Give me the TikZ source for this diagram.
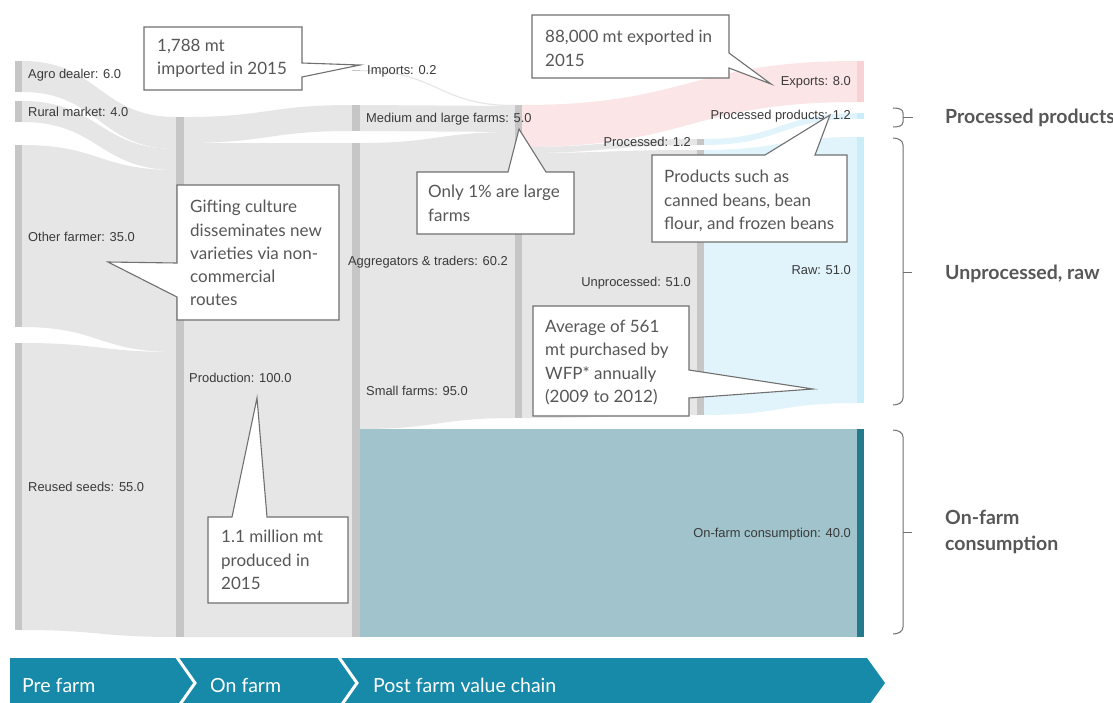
\documentclass[tikz,border=0pt]{standalone}
\usepackage{fontspec}
\setmainfont{Lato}
\newfontfamily\labfont{Liberation Sans}
\definecolor{flowgray}{HTML}{E6E6E6}
\definecolor{bargray}{HTML}{C6C6C6}
\definecolor{pinkflow}{HTML}{FCE5E6}
\definecolor{pinkbar}{HTML}{F7D1D4}
\definecolor{blueflow}{HTML}{E1F4FB}
\definecolor{bluebar}{HTML}{C9EEFA}
\definecolor{tealflow}{HTML}{A0C3CC}
\definecolor{tealbar}{HTML}{237A8C}
\definecolor{bannerc}{HTML}{1789A9}
\definecolor{callline}{HTML}{707070}
\definecolor{calltext}{HTML}{575757}
\definecolor{labtext}{HTML}{3A3A3A}
\newcommand{\sband}[7]{\fill[#7] (#1,#2) .. controls ({(#1+#4)/2},#2) and ({(#1+#4)/2},#5) .. (#4,#5) -- (#4,#6) .. controls ({(#1+#4)/2},#6) and ({(#1+#4)/2},#3) .. (#1,#3) -- cycle;}
\tikzset{
  lab/.style={font=\labfont\fontsize{12.9}{14}\selectfont, text=labtext, inner sep=0pt},
  labl/.style={lab, anchor=west},
  labr/.style={lab, anchor=east},
  callbox/.style={fill=white, draw=callline, line width=1.1pt, line join=miter},
  calltxt/.style={font=\fontsize{17}{23.3}\selectfont, text=calltext, inner sep=0pt, anchor=north west, align=left},
  heading/.style={font=\bfseries\fontsize{19.5}{26}\selectfont, text=calltext, inner sep=0pt, anchor=west, align=left},
  bracket/.style={draw=callline, line width=1pt},
  bannertxt/.style={font=\fontsize{19.5}{22}\selectfont, text=white, inner sep=0pt, anchor=west},
}
\begin{document}
\begin{tikzpicture}[x=1pt,y=-1pt]
\useasboundingbox (0,0) rectangle (1113,702);
\fill[white] (0,0) rectangle (1113,702);
% ---- flows col1 -> col2
\sband{22}{61}{92}{176}{117}{149}{flowgray}
\sband{22}{101}{122}{176}{149}{170}{flowgray}
\sband{22}{145}{327}{176}{170}{352}{flowgray}
\sband{22}{343}{630}{176}{352}{637}{flowgray}
% ---- col2 -> col3
\sband{184}{117}{143}{352}{105}{131}{flowgray}
\sband{184}{143}{637}{352}{143}{637}{flowgray}
% ---- col3 -> col4
\sband{360}{70}{71.2}{515}{105}{106.2}{flowgray}
\sband{360}{105}{131}{515}{106}{132}{flowgray}
\sband{360}{143}{429}{515}{132}{418}{flowgray}
\fill[tealflow] (360,429) rectangle (857,637);
% ---- col4 -> col5 / col6
\sband{522}{105}{147}{857}{61}{102}{pinkflow}
\sband{522}{147}{153}{697}{139}{145}{flowgray}
\sband{522}{153}{418}{697}{150}{415}{flowgray}
% ---- col5 -> col6
\sband{704}{139}{145}{857}{113}{119}{blueflow}
\sband{704}{150}{415}{857}{137}{403}{blueflow}
% ---- bars
\fill[bargray] (15,61) rectangle (22,92);
\fill[bargray] (15,101) rectangle (22,122);
\fill[bargray] (15,145) rectangle (22,327);
\fill[bargray] (15,343) rectangle (22,630);
\fill[bargray] (176,117) rectangle (184,637);
\fill[bargray] (352,70) rectangle (360,71.2);
\fill[bargray] (352,105) rectangle (360,131);
\fill[bargray] (352,143) rectangle (360,637);
\fill[bargray] (515,105) rectangle (522,418);
\fill[bargray] (697,139) rectangle (704,145);
\fill[bargray] (697,150) rectangle (704,415);
\fill[pinkbar] (857,61) rectangle (864,102);
\fill[bluebar] (857,113) rectangle (864,119);
\fill[bluebar] (857,137) rectangle (864,403);
\fill[tealbar] (857,429) rectangle (864,637);
% ---- node labels
\node[labl] (lagro) at (28,75) {Agro dealer: 6.0};
\node[labl] (lrural) at (28,112) {Rural market: 4.0};
\node[labl] (lother) at (28,237) {Other farmer: 35.0};
\node[labl] (lreused) at (28,487) {Reused seeds: 55.0};
\node[labl] (lprod) at (189,378) {Production: 100.0};
\node[labl] (limports) at (367,71) {Imports: 0.2};
\node[labl] (lmedium) at (366,119) {Medium and large farms: 5.0};
\node[labl] (lsmall) at (366,391) {Small farms: 95.0};
\node[labr] (lagg) at (508,262) {Aggregators \& traders: 60.2};
\node[labr] (lprocd) at (691,142) {Processed: 1.2};
\node[labr] (lunproc) at (691,283) {Unprocessed: 51.0};
\node[labr] (lexports) at (851,82) {Exports: 8.0};
\node[labr] (lprocp) at (851,116) {Processed products: 1.2};
\node[labr] (lraw) at (851,270) {Raw: 51.0};
\node[labr] (lonfarm) at (851,534) {On-farm consumption: 40.0};
% ---- callouts
\draw[callbox] (144,27) -- (302,27) -- (302,63) -- (360,65) -- (302,77) -- (302,90) -- (144,90) -- cycle;
\node[calltxt] (c1) at (157,39) {1,788 mt\\imported in 2015};
\draw[callbox] (532,15) -- (729,15) -- (729,53) -- (771,84) -- (729,68) -- (729,78) -- (532,78) -- cycle;
\node[calltxt] (c2) at (545,30) {88,000 mt exported in\\2015};
\draw[callbox] (417,172) -- (508,172) -- (519,129) -- (546,172) -- (574,172) -- (574,234) -- (417,234) -- cycle;
\node[calltxt] (c3) at (428,185) {Only 1\% are large\\farms};
\draw[callbox] (652,155) -- (765,155) -- (830,115) -- (815,155) -- (847,155) -- (847,242) -- (652,242) -- cycle;
\node[calltxt] (c4) at (664,170) {Products such as\\canned beans, bean\\flour, and frozen beans};
\draw[callbox] (177,185) -- (339,185) -- (339,320) -- (177,320) -- (177,297) -- (108,262) -- (177,263) -- cycle;
\node[calltxt] (c5) at (190,200) {Gifting culture\\disseminates new\\varieties via non-\\commercial\\routes};
\draw[callbox] (208,517) -- (232,517) -- (257,398) -- (267,517) -- (348,517) -- (348,603) -- (208,603) -- cycle;
\node[calltxt] (c6) at (221,530) {1.1 million mt\\produced in\\2015};
\draw[callbox] (533,306) -- (689,306) -- (689,370) -- (813,389) -- (689,398) -- (689,416) -- (533,416) -- cycle;
\node[calltxt] (c7) at (545,320) {Average of 561\\mt purchased by\\WFP* annually\\(2009 to 2012)};
% ---- brackets and headings
\draw[bracket] (893,108) to[out=0,in=90] (903,113) -- (903,122) to[out=-90,in=0] (893,127);
\draw[bracket] (903,117) -- (913,117);
\node[heading] (hproc) at (945,118) {Processed products};
\draw[bracket] (893,138) to[out=0,in=90] (903,145) -- (903,398) to[out=-90,in=0] (893,405);
\draw[bracket] (903,272) -- (912,272);
\node[heading] (hunproc) at (945,274) {Unprocessed, raw};
\draw[bracket] (893,430) to[out=0,in=90] (903,437) -- (903,627) to[out=-90,in=0] (893,634);
\draw[bracket] (903,532) -- (912,532);
\node[heading] (honfarm) at (945,532) {On-farm\\consumption};
% ---- banner
\fill[bannerc] (10,658) -- (867,658) -- (885,683) -- (867,708) -- (10,708) -- cycle;
\draw[white, line width=3pt, line join=miter] (176,656) -- (195,683) -- (176,710);
\draw[white, line width=3pt, line join=miter] (338,656) -- (357,683) -- (338,710);
\node[bannertxt] (b1) at (22,685) {Pre farm};
\node[bannertxt] (b2) at (210,685) {On farm};
\node[bannertxt] (b3) at (373,685) {Post farm value chain};
\end{tikzpicture}
\end{document}
